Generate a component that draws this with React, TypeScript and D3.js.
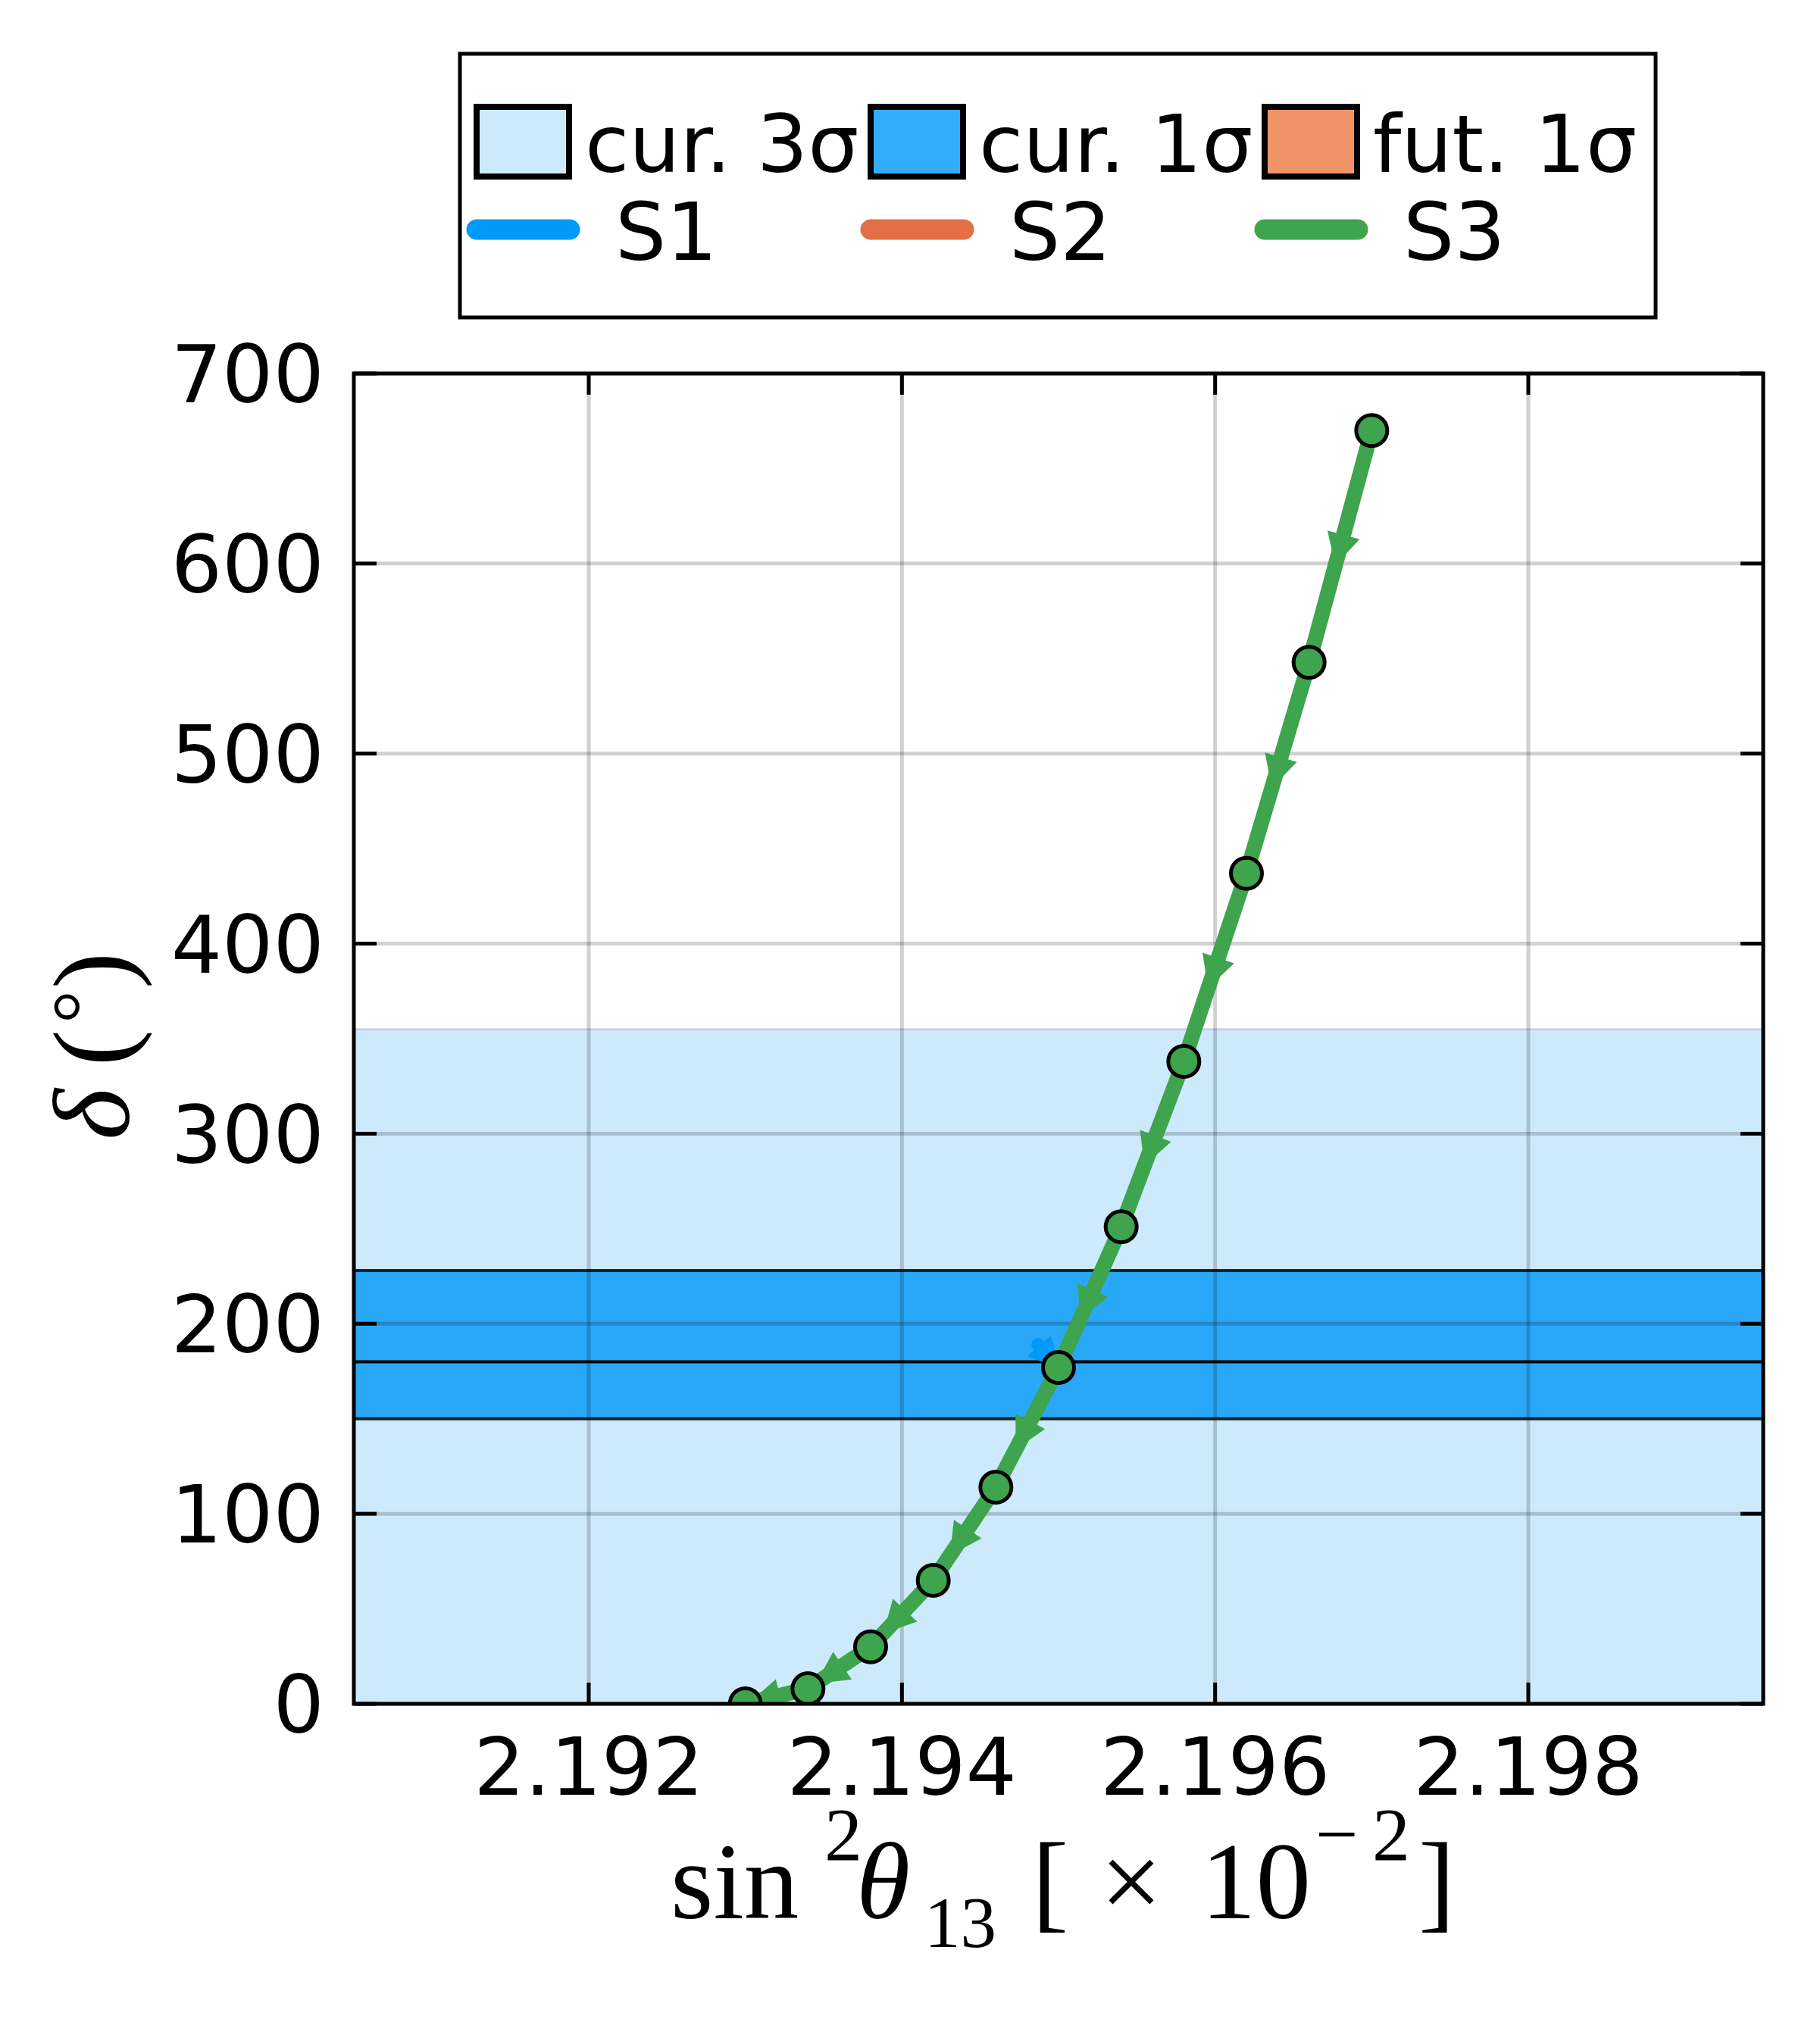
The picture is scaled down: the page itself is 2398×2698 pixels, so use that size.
import React from "react";
import * as d3 from "d3";

// chart values
const xTicks = [2.192, 2.194, 2.196, 2.198];
const yTicks = [0, 100, 200, 300, 400, 500, 600, 700];

const s3X = [2.193, 2.1934, 2.1938, 2.1942, 2.1946, 2.195, 2.1954, 2.1958, 2.1962, 2.1966, 2.197];
const s3Y = [0, 8, 30, 65, 114, 177, 251, 338, 437, 548, 670];

const s1X = [2.19487, 2.195];
const s1Y = [189, 177];

const band3 = [0, 355];
const band1 = [150, 228];
const band1Mid = 180;

const patchLabels = ["cur. 3σ", "cur. 1σ", "fut. 1σ"];
const patchColors = ["#cdeafd", "#33adfa", "#f09468"];
const lineLabels = ["S1", "S2", "S3"];
const lineColors = ["#009af9", "#e26f46", "#3ea44e"];

const W = 2398;
const H = 2698;
const L = 467, R = 2327, T = 493, B = 2249;

const x = d3.scaleLinear().domain([2.1905, 2.1995]).range([L, R]);
const y = d3.scaleLinear().domain([0, 700]).range([B, T]);

const tickFont = "'DejaVu Sans', sans-serif";
const mathFont = "'Liberation Serif', 'DejaVu Serif', serif";

function arrowHead(x0: number, y0: number, x1: number, y1: number, at: number, len: number, wid: number) {
  const dx = x1 - x0, dy = y1 - y0;
  const d = Math.hypot(dx, dy);
  const ux = dx / d, uy = dy / d;
  const bx = x0 + dx * at, by = y0 + dy * at;
  const tx = bx + ux * len, ty = by + uy * len;
  const px = -uy * wid / 2, py = ux * wid / 2;
  return `M${tx},${ty}L${bx + px},${by + py}L${bx - px},${by - py}Z`;
}

// rotated piece of the y label
const Rot = ({ bx, cy, size, italic, children }: any) => (
  <text transform={`translate(${bx},${cy}) rotate(-90)`} textAnchor="middle"
    fontFamily={mathFont} fontSize={size} fontStyle={italic ? "italic" : "normal"}>
    {children}
  </text>
);

export default function App() {
  const line = d3.line<number>().x((_, i) => x(s3X[i])).y((d) => y(d));
  const s3Path = line(s3Y) || "";

  // arrows point from each upper point down to the previous one
  const arrows = s3Y.slice(1).map((v, i) =>
    arrowHead(x(s3X[i + 1]), y(v), x(s3X[i]), y(s3Y[i]), 0.45, 42, 44)
  );

  const s1Line = d3.line<number>().x((_, i) => x(s1X[i])).y((d) => y(d))(s1Y) || "";
  const s1Arrow = arrowHead(x(s1X[0]), y(s1Y[0]), x(s1X[1]), y(s1Y[1]), 0.05, 40, 42);

  const colStep = 520;
  const legX = 625;

  return (
    <svg width={W} height={H} style={{ position: "absolute", left: 0, top: 0, background: "#fff" }}>
      <defs>
        <clipPath id="plotClip">
          <rect x={L} y={T} width={R - L} height={B - T} />
        </clipPath>
      </defs>

      {/* legend */}
      <rect x={607} y={71} width={1578} height={348} fill="#fff" stroke="#000" strokeWidth={5} />
      {patchLabels.map((lab, i) => (
        <g key={lab}>
          <rect x={legX + i * colStep + 4} y={141} width={122} height={92}
            fill={patchColors[i]} stroke="#000" strokeWidth={8} />
          <text x={772 + i * colStep} y={227} fontFamily={tickFont} fontSize={106}>{lab}</text>
        </g>
      ))}
      {lineLabels.map((lab, i) => (
        <g key={lab}>
          <line x1={629 + i * colStep} x2={752 + i * colStep} y1={303} y2={303}
            stroke={lineColors[i]} strokeWidth={27} strokeLinecap="round" />
          <text x={812 + i * colStep} y={343} fontFamily={tickFont} fontSize={106}>{lab}</text>
        </g>
      ))}

      {/* bands */}
      <g clipPath="url(#plotClip)">
        <rect x={L} width={R - L} y={y(band3[1])} height={y(band3[0]) - y(band3[1])}
          fill={patchColors[0]} stroke="rgba(0,0,0,0.12)" strokeWidth={3} />
        <rect x={L} width={R - L} y={y(band1[1])} height={y(band1[0]) - y(band1[1])}
          fill="#29a8f8" stroke="#17222c" strokeWidth={4} />
        <line x1={L} x2={R} y1={y(band1Mid)} y2={y(band1Mid)} stroke="#000" strokeWidth={4} />
      </g>

      {/* grid */}
      <g stroke="#000" strokeOpacity={0.18} strokeWidth={5}>
        {xTicks.map((t) => (
          <line key={t} x1={x(t)} x2={x(t)} y1={T} y2={B} />
        ))}
        {yTicks.map((t) => (
          <line key={t} x1={L} x2={R} y1={y(t)} y2={y(t)} />
        ))}
      </g>

      {/* series */}
      <g clipPath="url(#plotClip)">
        <path d={s1Line} fill="none" stroke={lineColors[0]} strokeWidth={6} />
        <path d={s1Arrow} fill={lineColors[0]} />
        <circle cx={x(s1X[0])} cy={y(s1Y[0])} r={9} fill={lineColors[0]} />

        <path d={s3Path} fill="none" stroke={lineColors[2]} strokeWidth={20} strokeLinejoin="round" />
        {arrows.map((d, i) => (
          <path key={i} d={d} fill={lineColors[2]} />
        ))}
        {s3Y.map((v, i) => (
          <circle key={i} cx={x(s3X[i])} cy={y(v)} r={20.5} fill={lineColors[2]} stroke="#000" strokeWidth={5} />
        ))}
      </g>

      {/* frame and ticks */}
      <rect x={L} y={T} width={R - L} height={B - T} fill="none" stroke="#000" strokeWidth={5} />
      <g stroke="#000" strokeWidth={5}>
        {xTicks.map((t) => (
          <g key={t}>
            <line x1={x(t)} x2={x(t)} y1={B} y2={B - 28} />
            <line x1={x(t)} x2={x(t)} y1={T} y2={T + 28} />
          </g>
        ))}
        {yTicks.map((t) => (
          <g key={t}>
            <line x1={L} x2={L + 30} y1={y(t)} y2={y(t)} />
            <line x1={R} x2={R - 30} y1={y(t)} y2={y(t)} />
          </g>
        ))}
      </g>

      {/* tick labels */}
      {xTicks.map((t) => (
        <text key={t} x={x(t)} y={2369} textAnchor="middle" fontFamily={tickFont} fontSize={106}>
          {d3.format(".3f")(t)}
        </text>
      ))}
      {yTicks.map((t) => (
        <text key={t} x={428} y={y(t)} dy="0.36em" textAnchor="end" fontFamily={tickFont} fontSize={106}>
          {t}
        </text>
      ))}

      {/* x axis label */}
      <text fontFamily={mathFont} fontSize={145}>
        <tspan x={885} y={2532}>sin</tspan>
        <tspan x={1088} y={2455} fontSize={100}>2</tspan>
        <tspan x={1130} y={2532} fontStyle="italic">θ</tspan>
        <tspan x={1220} y={2570} fontSize={95}>13</tspan>
        <tspan x={1362} y={2532}>[</tspan>
        <tspan x={1452} y={2532}>×</tspan>
        <tspan x={1585} y={2532}>10</tspan>
        <tspan x={1736} y={2455} fontSize={100}>−</tspan>
        <tspan x={1811} y={2455} fontSize={100}>2</tspan>
        <tspan x={1872} y={2532}>]</tspan>
      </text>

      {/* y axis label */}
      <Rot bx={170} cy={1471} size={145} italic>δ</Rot>
      <Rot bx={170} cy={1383} size={145}>(</Rot>
      <Rot bx={145} cy={1329} size={110}>°</Rot>
      <Rot bx={170} cy={1281} size={145}>)</Rot>
    </svg>
  );
}
